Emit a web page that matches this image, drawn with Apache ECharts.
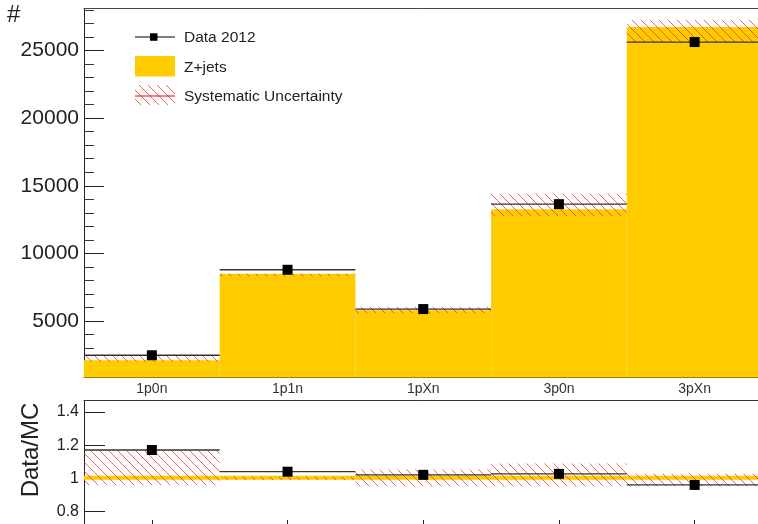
<!DOCTYPE html>
<html>
<head>
<meta charset="utf-8">
<script src="https://cdn.jsdelivr.net/npm/echarts@6/dist/echarts.min.js"></script>
<style>
html,body{margin:0;padding:0;background:#fff;}
#c{width:758px;height:524px;}
</style>
</head>
<body>
<div id="c"></div>
<script>
const categories = ['1p0n', '1p1n', '1pXn', '3p0n', '3pXn'];
const dataCounts = [2473, 8792, 5887, 13640, 25621];
const zjets = [2110, 8496, 5800, 13270, 26729];
const systLo = [1992, 8297, 5578, 12774, 25591];
const systHi = [2490, 8496, 6066, 14401, 27269];
const ratio = [1.171, 1.040, 1.021, 1.027, 0.960];
const mcRatio = [1, 1, 1, 1, 1];
const ratioSystLo = [0.958, 0.990, 0.952, 0.952, 0.952];
const ratioSystHi = [1.167, 1.010, 1.053, 1.089, 1.028];
const yMajorTicks = [5000, 10000, 15000, 20000, 25000];
const yMinorTicks = [1000, 2000, 3000, 4000, 6000, 7000, 8000, 9000, 11000, 12000, 13000, 14000,
  16000, 17000, 18000, 19000, 21000, 22000, 23000, 24000, 26000, 27000, 28000];
const ratioTicks = [0.8, 1.0, 1.2, 1.4];
const binCenters = [0.5, 1.5, 2.5, 3.5, 4.5];

const Y_MIN = 830, Y_MAX = 28100;
const R_MIN = 0.7, R_MAX = 1.47;
const FONT = "'Liberation Sans', Arial, sans-serif";
const YELLOW = '#ffcc00';

// hatch pattern
const pc = document.createElement('canvas');
pc.width = 9; pc.height = 9;
const pctx = pc.getContext('2d');
pctx.strokeStyle = 'rgba(255,40,40,0.75)';
pctx.lineWidth = 1;
pctx.beginPath();
pctx.moveTo(-1, -1); pctx.lineTo(10, 10);
pctx.moveTo(-1, 8); pctx.lineTo(1, 10);
pctx.moveTo(8, -1); pctx.lineTo(10, 1);
pctx.stroke();
const hatch = { image: pc, repeat: 'repeat' };

const chart = echarts.init(document.getElementById('c'), null, { renderer: 'canvas' });

function rectBetween(api, i, lo, hi) {
  const a = api.coord([i, lo]);
  const b = api.coord([i + 1, hi]);
  return { x: a[0], y: b[1], width: b[0] - a[0], height: a[1] - b[1] };
}

const option = {
  animation: false,
  textStyle: { fontFamily: FONT },
  grid: [
    { left: 84, width: 678.5, top: 8.5, height: 369, outerBoundsMode: 'none', containLabel: false },
    { left: 84, width: 678.5, top: 400.5, height: 127.5, outerBoundsMode: 'none', containLabel: false }
  ],
  xAxis: [
    { gridIndex: 0, type: 'value', min: 0, max: 5, position: 'bottom',
      axisLine: { show: true, lineStyle: { color: '#333', width: 1 } },
      axisTick: { show: true, inside: true, length: 10, customValues: binCenters, lineStyle: { color: '#222' } },
      axisLabel: { show: true, customValues: binCenters, margin: 5, fontSize: 14, color: '#333', fontFamily: FONT,
        formatter: v => categories[Math.round(v - 0.5)] },
      splitLine: { show: false } },
    { gridIndex: 0, type: 'value', min: 0, max: 5, position: 'top',
      axisLine: { show: true, lineStyle: { color: '#444', width: 1 } },
      axisTick: { show: false }, axisLabel: { show: false }, splitLine: { show: false } },
    { gridIndex: 1, type: 'value', min: 0, max: 5, position: 'bottom',
      axisLine: { show: true, lineStyle: { color: '#333', width: 1 } },
      axisTick: { show: true, inside: true, length: 8, customValues: binCenters, lineStyle: { color: '#222' } },
      axisLabel: { show: false }, splitLine: { show: false } },
    { gridIndex: 1, type: 'value', min: 0, max: 5, position: 'top',
      axisLine: { show: true, lineStyle: { color: '#333', width: 1 } },
      axisTick: { show: false }, axisLabel: { show: false }, splitLine: { show: false } }
  ],
  yAxis: [
    { gridIndex: 0, type: 'value', min: Y_MIN, max: Y_MAX, position: 'left',
      axisLine: { show: true, lineStyle: { color: '#222', width: 1 } },
      axisTick: { show: true, inside: true, length: 20, customValues: yMajorTicks, lineStyle: { color: '#222' } },
      axisLabel: { show: true, customValues: yMajorTicks, margin: 5, fontSize: 21, color: '#222', fontFamily: FONT,
        formatter: v => String(Math.round(v)) },
      splitLine: { show: false } },
    { gridIndex: 0, type: 'value', min: Y_MIN, max: Y_MAX, position: 'left',
      axisLine: { show: false },
      axisTick: { show: true, inside: true, length: 10, customValues: yMinorTicks, lineStyle: { color: '#333' } },
      axisLabel: { show: false }, splitLine: { show: false } },
    { gridIndex: 1, type: 'value', min: R_MIN, max: R_MAX, position: 'left',
      axisLine: { show: true, lineStyle: { color: '#222', width: 1 } },
      axisTick: { show: true, inside: true, length: 21, customValues: ratioTicks, lineStyle: { color: '#222' } },
      axisLabel: { show: true, customValues: ratioTicks, margin: 5, fontSize: 16, color: '#222', fontFamily: FONT,
        formatter: v => String(Math.round(v * 10) / 10) },
      splitLine: { show: false } }
  ],
  series: [
    { type: 'custom', name: 'Z+jets', xAxisIndex: 0, yAxisIndex: 0, z: 2,
      data: zjets.map((v, i) => [i, v]),
      renderItem: (params, api) => ({ type: 'rect', shape: rectBetween(api, api.value(0), Y_MIN, api.value(1)),
        style: { fill: YELLOW } }) },
    { type: 'custom', name: 'Systematic Uncertainty', xAxisIndex: 0, yAxisIndex: 0, z: 3,
      data: systLo.map((v, i) => [i, v, systHi[i]]),
      renderItem: (params, api) => ({ type: 'rect', shape: rectBetween(api, api.value(0), api.value(1), api.value(2)),
        style: { fill: hatch } }) },
    { type: 'custom', name: 'Data 2012', xAxisIndex: 0, yAxisIndex: 0, z: 4,
      data: dataCounts.map((v, i) => [i, v]),
      renderItem: (params, api) => {
        const i = api.value(0), v = api.value(1);
        const a = api.coord([i, v]), b = api.coord([i + 1, v]), c = api.coord([i + 0.5, v]);
        return { type: 'group', children: [
          { type: 'line', shape: { x1: a[0], y1: a[1], x2: b[0], y2: b[1] }, style: { stroke: '#333', lineWidth: 1.3 } },
          { type: 'rect', shape: { x: c[0] - 5, y: c[1] - 5, width: 10, height: 10 }, style: { fill: '#000' } }
        ] };
      } },
    { type: 'custom', name: 'MC ratio', xAxisIndex: 2, yAxisIndex: 2, z: 2,
      data: mcRatio.map((v, i) => [i, v]),
      renderItem: (params, api) => {
        const i = api.value(0), v = api.value(1);
        const r = rectBetween(api, i, v, v);
        return { type: 'rect', shape: { x: r.x, y: r.y - 2.5, width: r.width, height: 4 }, style: { fill: YELLOW } };
      } },
    { type: 'custom', name: 'Ratio syst', xAxisIndex: 2, yAxisIndex: 2, z: 3,
      data: ratioSystLo.map((v, i) => [i, v, ratioSystHi[i]]),
      renderItem: (params, api) => ({ type: 'rect', shape: rectBetween(api, api.value(0), api.value(1), api.value(2)),
        style: { fill: hatch } }) },
    { type: 'custom', name: 'Ratio data', xAxisIndex: 2, yAxisIndex: 2, z: 4,
      data: ratio.map((v, i) => [i, v]),
      renderItem: (params, api) => {
        const i = api.value(0), v = api.value(1);
        const a = api.coord([i, v]), b = api.coord([i + 1, v]), c = api.coord([i + 0.5, v]);
        return { type: 'group', children: [
          { type: 'line', shape: { x1: a[0], y1: a[1], x2: b[0], y2: b[1] }, style: { stroke: '#333', lineWidth: 1.3 } },
          { type: 'rect', shape: { x: c[0] - 5, y: c[1] - 5, width: 10, height: 10 }, style: { fill: '#000' } }
        ] };
      } }
  ],
  graphic: [
    { type: 'text', x: 7, y: 15, style: { text: '#', font: '24px ' + FONT, fill: '#222', verticalAlign: 'middle' } },
    { type: 'text', x: 31, y: 450, rotation: Math.PI / 2,
      style: { text: 'Data/MC', font: '24px ' + FONT, fill: '#222', align: 'center', verticalAlign: 'middle' } },
    // legend
    { type: 'line', shape: { x1: 135, y1: 37, x2: 175, y2: 37 }, style: { stroke: '#000', lineWidth: 1 } },
    { type: 'rect', shape: { x: 150, y: 33.3, width: 7.5, height: 7.5 }, style: { fill: '#000' } },
    { type: 'text', x: 184, y: 38, style: { text: 'Data 2012', font: '15.5px ' + FONT, fill: '#222', verticalAlign: 'middle' } },
    { type: 'rect', shape: { x: 135, y: 56, width: 40, height: 20.5 }, style: { fill: YELLOW } },
    { type: 'text', x: 184, y: 68, style: { text: 'Z+jets', font: '15.5px ' + FONT, fill: '#222', verticalAlign: 'middle' } },
    { type: 'rect', shape: { x: 135, y: 85, width: 40, height: 20 }, style: { fill: hatch } },
    { type: 'line', shape: { x1: 135, y1: 96, x2: 175, y2: 96 }, style: { stroke: '#f00', lineWidth: 1 } },
    { type: 'text', x: 184, y: 97, style: { text: 'Systematic Uncertainty', font: '15.5px ' + FONT, fill: '#222', verticalAlign: 'middle' } }
  ]
};
chart.setOption(option);
</script>
</body>
</html>
